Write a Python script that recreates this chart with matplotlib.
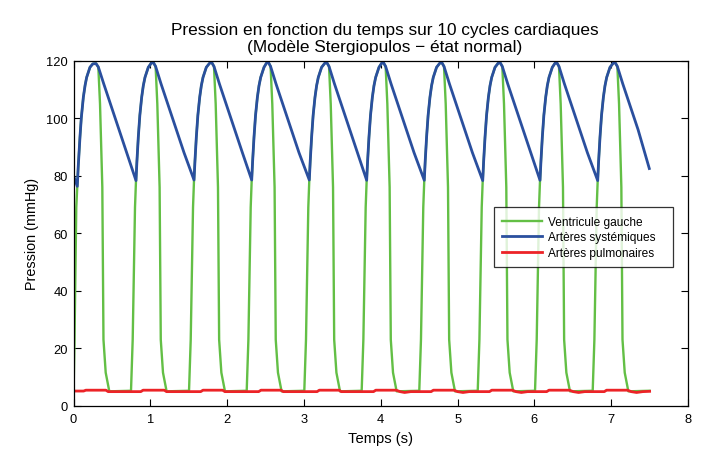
import matplotlib
matplotlib.use("Agg")
import matplotlib.pyplot as plt

plt.rcParams['font.family'] = ['Liberation Sans', 'DejaVu Sans']

# Pression aortique (artères systémiques), mmHg
t_aorte = [
    0.000, 0.020, 0.048, 0.060, 0.083, 0.100, 0.127, 0.150, 0.170, 0.213, 0.250, 0.292,
    0.322, 0.392, 0.492, 0.592, 0.692,
    0.8125, 0.8245, 0.8425, 0.8625, 0.8865, 0.9075, 0.9295, 0.9725, 1.010, 1.038,
    1.068, 1.138, 1.238, 1.338, 1.438,
    1.568, 1.580, 1.598, 1.618, 1.642, 1.663, 1.685, 1.728, 1.770, 1.798,
    1.828, 1.898, 1.998, 2.098, 2.198,
    2.319, 2.331, 2.349, 2.369, 2.393, 2.414, 2.436, 2.479, 2.510, 2.535,
    2.565, 2.635, 2.735, 2.835, 2.935,
    3.069, 3.081, 3.099, 3.119, 3.143, 3.164, 3.186, 3.229, 3.270, 3.296,
    3.326, 3.396, 3.496, 3.596, 3.696,
    3.816, 3.828, 3.846, 3.866, 3.890, 3.911, 3.933, 3.976, 4.010, 4.033,
    4.063, 4.133, 4.233, 4.333, 4.433,
    4.566, 4.578, 4.596, 4.616, 4.640, 4.661, 4.683, 4.726, 4.767, 4.793,
    4.823, 4.893, 4.993, 5.093, 5.193,
    5.327, 5.339, 5.357, 5.377, 5.401, 5.422, 5.444, 5.487, 5.527, 5.552,
    5.582, 5.652, 5.752, 5.852, 5.952,
    6.073, 6.085, 6.103, 6.123, 6.147, 6.168, 6.190, 6.233, 6.268, 6.290,
    6.320, 6.390, 6.490, 6.590, 6.690,
    6.824, 6.836, 6.854, 6.874, 6.898, 6.919, 6.941, 6.984, 7.025, 7.050,
    7.080, 7.150, 7.250, 7.350, 7.496,
]
p_aorte = [
    80.0, 78.5, 76.3, 83.0, 93.4, 100.0, 107.3, 111.5, 114.2, 117.7, 118.9, 119.0,
    117.8, 112.0, 104.0, 96.0, 88.0,
    78.3, 85.0, 93.4, 101.0, 107.3, 111.3, 114.2, 117.7, 119.1, 119.4,
    118.0, 112.0, 104.0, 96.0, 88.0,
    78.5, 85.0, 93.4, 101.0, 107.3, 111.3, 114.2, 117.7, 119.1, 119.4,
    118.0, 112.0, 104.0, 96.0, 88.0,
    78.5, 85.0, 93.4, 101.0, 107.3, 111.3, 114.2, 117.7, 119.1, 119.5,
    118.0, 112.0, 104.0, 96.0, 88.0,
    78.5, 85.0, 93.4, 101.0, 107.3, 111.3, 114.2, 117.7, 119.1, 119.4,
    118.0, 112.0, 104.0, 96.0, 88.0,
    78.4, 85.0, 93.4, 101.0, 107.3, 111.3, 114.2, 117.7, 119.1, 119.4,
    118.0, 112.0, 104.0, 96.0, 88.0,
    78.4, 85.0, 93.4, 101.0, 107.3, 111.3, 114.2, 117.7, 119.1, 119.4,
    118.0, 112.0, 104.0, 96.0, 88.0,
    78.3, 85.0, 93.4, 101.0, 107.3, 111.3, 114.2, 117.7, 119.1, 119.4,
    118.0, 112.0, 104.0, 96.0, 88.0,
    78.4, 85.0, 93.4, 101.0, 107.3, 111.3, 114.2, 117.7, 119.1, 119.4,
    118.0, 112.0, 104.0, 96.0, 88.0,
    78.3, 85.0, 93.4, 101.0, 107.3, 111.3, 114.2, 117.7, 119.1, 119.4,
    118.0, 112.0, 104.0, 96.0, 82.5,
]

# Pression ventriculaire gauche, mmHg
t_ventricule = [
    0.000, 0.012, 0.035, 0.048, 0.060, 0.083, 0.100, 0.127, 0.150, 0.170, 0.213, 0.250, 0.292,
    0.322, 0.344, 0.362, 0.374, 0.382, 0.389, 0.418, 0.465,
    0.7475, 0.7695, 0.7995, 0.8125, 0.8245, 0.8425, 0.8625, 0.8865, 0.9075, 0.9295, 0.9725, 1.010, 1.038,
    1.068, 1.090, 1.108, 1.120, 1.128, 1.135, 1.164, 1.211,
    1.503, 1.525, 1.555, 1.568, 1.580, 1.598, 1.618, 1.642, 1.663, 1.685, 1.728, 1.770, 1.798,
    1.828, 1.850, 1.868, 1.880, 1.888, 1.895, 1.924, 1.971,
    2.254, 2.276, 2.306, 2.319, 2.331, 2.349, 2.369, 2.393, 2.414, 2.436, 2.479, 2.510, 2.535,
    2.565, 2.587, 2.605, 2.617, 2.625, 2.632, 2.661, 2.708,
    3.004, 3.026, 3.056, 3.069, 3.081, 3.099, 3.119, 3.143, 3.164, 3.186, 3.229, 3.270, 3.296,
    3.326, 3.348, 3.366, 3.378, 3.386, 3.393, 3.422, 3.469,
    3.751, 3.773, 3.803, 3.816, 3.828, 3.846, 3.866, 3.890, 3.911, 3.933, 3.976, 4.010, 4.033,
    4.063, 4.085, 4.103, 4.115, 4.123, 4.130, 4.159, 4.206,
    4.501, 4.523, 4.553, 4.566, 4.578, 4.596, 4.616, 4.640, 4.661, 4.683, 4.726, 4.767, 4.793,
    4.823, 4.845, 4.863, 4.875, 4.883, 4.890, 4.919, 4.966,
    5.262, 5.284, 5.314, 5.327, 5.339, 5.357, 5.377, 5.401, 5.422, 5.444, 5.487, 5.527, 5.552,
    5.582, 5.604, 5.622, 5.634, 5.642, 5.649, 5.678, 5.725,
    6.008, 6.030, 6.060, 6.073, 6.085, 6.103, 6.123, 6.147, 6.168, 6.190, 6.233, 6.268, 6.290,
    6.320, 6.342, 6.360, 6.372, 6.380, 6.387, 6.416, 6.463,
    6.759, 6.781, 6.811, 6.824, 6.836, 6.854, 6.874, 6.898, 6.919, 6.941, 6.984, 7.025, 7.050,
    7.080, 7.102, 7.120, 7.132, 7.140, 7.147, 7.176, 7.223,
    7.500,
]
p_ventricule = [
    5.0, 23.0, 69.0, 76.3, 83.0, 93.4, 100.0, 107.3, 111.5, 114.2, 117.7, 118.9, 119.0,
    117.8, 105.0, 88.0, 76.0, 50.0, 23.0, 11.5, 5.0,
    5.2, 23.0, 69.0, 78.3, 85.0, 93.4, 101.0, 107.3, 111.3, 114.2, 117.7, 119.1, 119.4,
    118.0, 105.0, 88.0, 76.0, 50.0, 23.0, 11.5, 5.0,
    5.2, 23.0, 69.0, 78.5, 85.0, 93.4, 101.0, 107.3, 111.3, 114.2, 117.7, 119.1, 119.4,
    118.0, 105.0, 88.0, 76.0, 50.0, 23.0, 11.5, 5.0,
    5.2, 23.0, 69.0, 78.5, 85.0, 93.4, 101.0, 107.3, 111.3, 114.2, 117.7, 119.1, 119.5,
    118.0, 105.0, 88.0, 76.0, 50.0, 23.0, 11.5, 5.0,
    5.2, 23.0, 69.0, 78.5, 85.0, 93.4, 101.0, 107.3, 111.3, 114.2, 117.7, 119.1, 119.4,
    118.0, 105.0, 88.0, 76.0, 50.0, 23.0, 11.5, 5.0,
    5.2, 23.0, 69.0, 78.4, 85.0, 93.4, 101.0, 107.3, 111.3, 114.2, 117.7, 119.1, 119.4,
    118.0, 105.0, 88.0, 76.0, 50.0, 23.0, 11.5, 5.0,
    5.2, 23.0, 69.0, 78.4, 85.0, 93.4, 101.0, 107.3, 111.3, 114.2, 117.7, 119.1, 119.4,
    118.0, 105.0, 88.0, 76.0, 50.0, 23.0, 11.5, 5.0,
    5.2, 23.0, 69.0, 78.3, 85.0, 93.4, 101.0, 107.3, 111.3, 114.2, 117.7, 119.1, 119.4,
    118.0, 105.0, 88.0, 76.0, 50.0, 23.0, 11.5, 5.0,
    5.2, 23.0, 69.0, 78.4, 85.0, 93.4, 101.0, 107.3, 111.3, 114.2, 117.7, 119.1, 119.4,
    118.0, 105.0, 88.0, 76.0, 50.0, 23.0, 11.5, 5.0,
    5.2, 23.0, 69.0, 78.3, 85.0, 93.4, 101.0, 107.3, 111.3, 114.2, 117.7, 119.1, 119.4,
    118.0, 105.0, 88.0, 76.0, 50.0, 23.0, 11.5, 5.0,
    5.2,
]

# Pression des artères pulmonaires, mmHg
t_pulm = [
    0.000, 0.130, 0.160, 0.420, 0.450,
    0.875, 0.905, 1.180, 1.210,
    1.655, 1.685, 1.940, 1.970,
    2.410, 2.440, 2.700, 2.730,
    3.170, 3.200, 3.455, 3.485,
    3.905, 3.935, 4.200, 4.250, 4.310, 4.390,
    4.655, 4.685, 4.950, 5.000, 5.070, 5.150,
    5.415, 5.445, 5.710, 5.760, 5.830, 5.910,
    6.160, 6.190, 6.455, 6.505, 6.575, 6.655,
    6.910, 6.940, 7.210, 7.260, 7.330, 7.410, 7.500,
]
p_pulm = [
    5.1, 5.1, 5.4, 5.4, 4.9,
    4.9, 5.4, 5.4, 4.9,
    4.9, 5.4, 5.4, 4.9,
    4.9, 5.4, 5.4, 4.9,
    4.9, 5.4, 5.4, 4.9,
    4.9, 5.4, 5.4, 4.9, 4.6, 4.9,
    4.9, 5.4, 5.4, 4.9, 4.6, 4.9,
    4.9, 5.4, 5.4, 4.9, 4.6, 4.9,
    4.9, 5.4, 5.4, 4.9, 4.6, 4.9,
    4.9, 5.4, 5.4, 4.9, 4.6, 4.9, 5.0,
]

x_ticks = [0, 1, 2, 3, 4, 5, 6, 7, 8]
y_ticks = [0, 20, 40, 60, 80, 100, 120]

fig = plt.figure(figsize=(7.09, 4.52), dpi=100)
ax = fig.add_axes([0.1038, 0.1002, 0.8666, 0.7633])

ax.plot(t_ventricule, p_ventricule, color='#63bf45', lw=1.7, label='Ventricule gauche')
ax.plot(t_aorte, p_aorte, color='#2a4f9e', lw=2.0, label='Artères systémiques')
ax.plot(t_pulm, p_pulm, color='#ec2327', lw=2.0, label='Artères pulmonaires')

ax.set_xlim(0, 8)
ax.set_ylim(0, 120)
ax.set_xticks(x_ticks)
ax.set_yticks(y_ticks)
ax.tick_params(direction='in', length=5, width=0.8, top=True, right=True,
               labelsize=9.3, colors='black')
ax.tick_params(axis='x', pad=5.5)
ax.tick_params(axis='y', pad=4)
for s in ax.spines.values():
    s.set_linewidth(0.9)

ax.set_xlabel('Temps (s)', fontsize=10.6, labelpad=4)
ax.set_ylabel('Pression (mmHg)', fontsize=10.4, labelpad=5)
ax.set_title('Pression en fonction du temps sur 10 cycles cardiaques\n'
             '(Modèle Stergiopulos − état normal)', fontsize=12.4, linespacing=1.15,
             pad=7, x=0.507)

leg = ax.legend(loc='upper left', bbox_to_anchor=(0.6843, 0.30, 0.2913, 0.275),
                mode='expand', borderaxespad=0,
                fontsize=8.6, frameon=True, fancybox=False, handlelength=3.35,
                handletextpad=0.45, borderpad=0.7, labelspacing=0.3)
leg.get_frame().set_edgecolor('black')
leg.get_frame().set_linewidth(0.9)

fig.savefig('out.png', dpi=100)
